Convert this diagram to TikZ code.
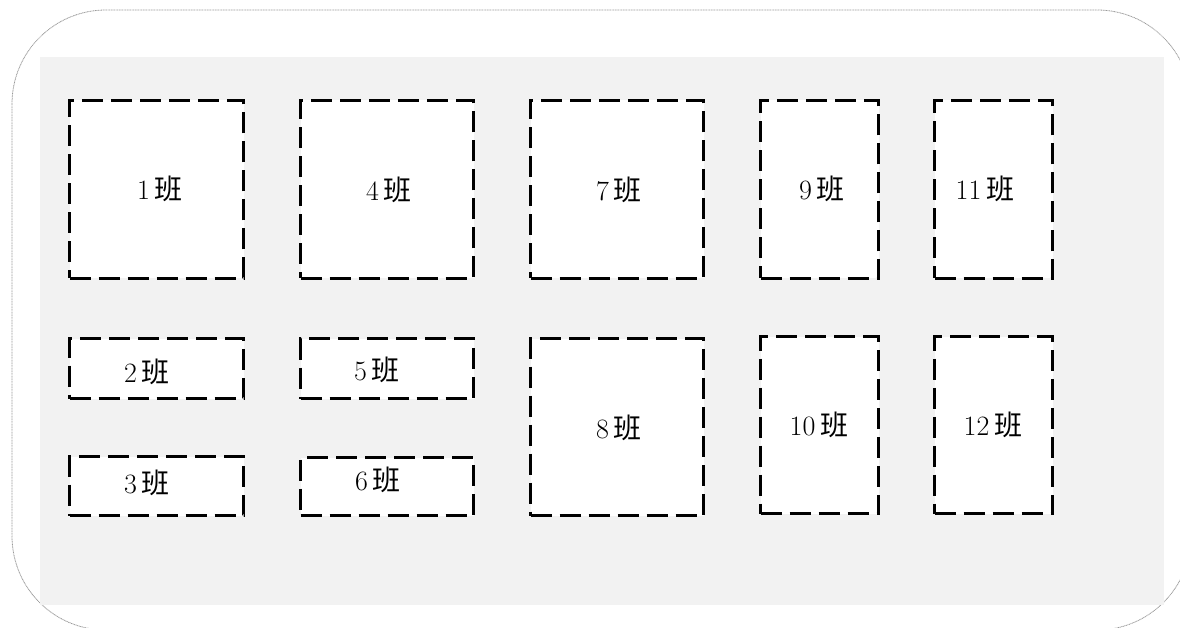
\documentclass[tikz,border=0pt]{standalone}
\usepackage{fontspec}
\newfontfamily\cjk{Noto Sans CJK SC}
\definecolor{panelgray}{HTML}{F2F2F2}
\definecolor{framegray}{HTML}{9A9A9A}
\tikzset{
  classbox/.style={draw=black, fill=white, line width=3pt, dash pattern=on 21pt off 8pt, inner sep=0pt, anchor=north west},
  classlabel/.style={font=\fontsize{28}{32}\selectfont, inner sep=0pt},
}
\newcommand{\ban}[1]{#1\hspace{5pt}{\cjk 班}}
\begin{document}
\begin{tikzpicture}[x=1pt,y=-1pt]
\useasboundingbox (0,0) rectangle (1180,628);
\clip (0,0) rectangle (1180,628);
\draw[framegray, line width=0.8pt, dash pattern=on 1pt off 0.6pt, rounded corners=94pt] (12,10) rectangle (1191,630);
\fill[panelgray] (40,57) rectangle (1164,605);
% boxes
\node[classbox, minimum width=174pt, minimum height=178pt] (b1) at (68,99) {};
\node[classbox, minimum width=174pt, minimum height=60pt] (b2) at (68,337) {};
\node[classbox, minimum width=174pt, minimum height=59pt] (b3) at (68,455) {};
\node[classbox, minimum width=173pt, minimum height=178pt] (b4) at (299,99) {};
\node[classbox, minimum width=173pt, minimum height=60pt] (b5) at (299,337) {};
\node[classbox, minimum width=173pt, minimum height=58pt] (b6) at (299,456) {};
\node[classbox, minimum width=173pt, minimum height=178pt] (b7) at (529,99) {};
\node[classbox, minimum width=173pt, minimum height=177pt] (b8) at (529,337) {};
\node[classbox, minimum width=118pt, minimum height=178pt] (b9) at (759,99) {};
\node[classbox, minimum width=118pt, minimum height=177pt] (b10) at (759,335) {};
\node[classbox, minimum width=118pt, minimum height=178pt] (b11) at (933,99) {};
\node[classbox, minimum width=118pt, minimum height=177pt] (b12) at (933,335) {};
% labels
\node[classlabel] (l1) at (160,189) {\ban{1}};
\node[classlabel] (l2) at (147,372) {\ban{2}};
\node[classlabel] (l3) at (147,483) {\ban{3}};
\node[classlabel] (l4) at (389,190) {\ban{4}};
\node[classlabel] (l5) at (377,370) {\ban{5}};
\node[classlabel] (l6) at (378,480) {\ban{6}};
\node[classlabel] (l7) at (619,190) {\ban{7}};
\node[classlabel] (l8) at (619,428) {\ban{8}};
\node[classlabel] (l9) at (822,189) {\ban{9}};
\node[classlabel] (l10) at (819,425) {\ban{10}};
\node[classlabel] (l11) at (985,189) {\ban{11}};
\node[classlabel] (l12) at (993,425) {\ban{12}};
\end{tikzpicture}
\end{document}
